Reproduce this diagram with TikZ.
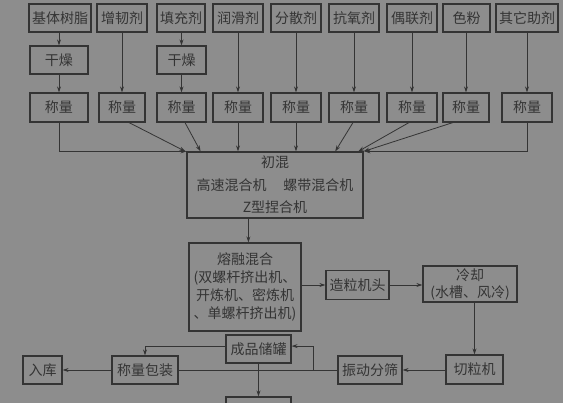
\documentclass[tikz,border=0pt]{standalone}
\usepackage{fontspec}
\setmainfont{Noto Sans CJK SC}
\usetikzlibrary{arrows.meta,calc}
\definecolor{bggray}{RGB}{141,141,141}
\definecolor{ink}{RGB}{52,52,52}
\begin{document}
\begin{tikzpicture}[x=1pt,y=-1pt,
  bx/.style={draw=ink,line width=1.2pt,inner sep=0pt,text=ink,align=center,
    font=\fontsize{14}{18}\selectfont},
  arr/.style={draw=ink,line width=0.8pt,-{Stealth[length=6pt,width=4pt]}},
  ln/.style={draw=ink,line width=0.8pt}]
\fill[bggray] (0,0) rectangle (563,403);
\useasboundingbox (0,0) rectangle (563,403);
% top row
\node[bx,minimum width=62pt,minimum height=28pt] (t1) at (60,18) {基体树脂};
\node[bx,minimum width=50pt,minimum height=28pt] (t2) at (122,18) {增韧剂};
\node[bx,minimum width=48pt,minimum height=28pt] (t3) at (181,18) {填充剂};
\node[bx,minimum width=50pt,minimum height=28pt] (t4) at (238,18) {润滑剂};
\node[bx,minimum width=50pt,minimum height=28pt] (t5) at (296,18) {分散剂};
\node[bx,minimum width=50pt,minimum height=28pt] (t6) at (354,18) {抗氧剂};
\node[bx,minimum width=50pt,minimum height=28pt] (t7) at (412,18) {偶联剂};
\node[bx,minimum width=47pt,minimum height=28pt] (t8) at (466.5,18) {色粉};
\node[bx,minimum width=62pt,minimum height=28pt] (t9) at (527,18) {其它助剂};
% drying
\node[bx,minimum width=58pt,minimum height=28pt] (d1) at (59,60) {干燥};
\node[bx,minimum width=49pt,minimum height=28pt] (d3) at (181.5,60) {干燥};
% weighing
\node[bx,minimum width=58pt,minimum height=29pt] (w1) at (59,107.5) {称量};
\node[bx,minimum width=46pt,minimum height=29pt] (w2) at (122,107.5) {称量};
\node[bx,minimum width=49pt,minimum height=29pt] (w3) at (181.5,107.5) {称量};
\node[bx,minimum width=50pt,minimum height=29pt] (w4) at (238,107.5) {称量};
\node[bx,minimum width=50pt,minimum height=29pt] (w5) at (296,107.5) {称量};
\node[bx,minimum width=50pt,minimum height=29pt] (w6) at (354,107.5) {称量};
\node[bx,minimum width=50pt,minimum height=29pt] (w7) at (412,107.5) {称量};
\node[bx,minimum width=46pt,minimum height=29pt] (w8) at (466,107.5) {称量};
\node[bx,minimum width=50pt,minimum height=29pt] (w9) at (527,107.5) {称量};
% pre-mix
\node[bx,minimum width=176pt,minimum height=66pt,font=\fontsize{14}{22.5}\selectfont] (mix) at (275,185) {初混\\高速混合机\hspace{1.2em}螺带混合机\\Z型捏合机};
% melt
\node[bx,minimum width=112pt,minimum height=88pt] (melt) at (245,287) {熔融混合\\(双螺杆挤出机、\\开炼机、密炼机\\、单螺杆挤出机)};
\node[bx,minimum width=63pt,minimum height=29pt] (gran) at (357.5,285) {造粒机头};
\node[bx,minimum width=94pt,minimum height=36pt,font=\fontsize{14}{17}\selectfont] (cool) at (470,284) {冷却\\(水槽、风冷)};
\node[bx,minimum width=57pt,minimum height=29pt] (cut) at (474.5,369.5) {切粒机};
\node[bx,minimum width=64pt,minimum height=28pt] (sieve) at (370,370) {振动分筛};
\node[bx,minimum width=65pt,minimum height=28pt] (store) at (258.5,349) {成品储罐};
\node[bx,minimum width=66pt,minimum height=28pt] (pack) at (145,370) {称量包装};
\node[bx,minimum width=39pt,minimum height=28pt] (stock) at (42.5,370) {入库};
\node[bx,minimum width=65pt,minimum height=28pt] (bot) at (258.5,411) {};
% arrows top
\draw[arr] (t1.south -| d1) -- (d1.north);
\draw[arr] (d1.south) -- (w1.north);
\draw[arr] (t3.south -| d3) -- (d3.north);
\draw[arr] (d3.south) -- (w3.north);
\draw[arr] (t2.south -| w2) -- (w2.north);
\draw[arr] (t4.south) -- (w4.north);
\draw[arr] (t5.south) -- (w5.north);
\draw[arr] (t6.south) -- (w6.north);
\draw[arr] (t7.south) -- (w7.north);
\draw[arr] (t8.south -| w8) -- (w8.north);
\draw[arr] (t9.south) -- (w9.north);
% to mix
\draw[arr] (w1.south) |- (mix.north west);
\draw[arr] ($(w2.south west)!0.65!(w2.south east)$) -- ([xshift=-1pt]mix.north west);
\draw[arr] ($(w3.south west)!0.57!(w3.south east)$) -- ($(mix.north west)!0.08!(mix.north east)$);
\draw[arr] (w4.south) -- (w4.south |- mix.north);
\draw[arr] (w5.south) -- (w5.south |- mix.north);
\draw[arr] ($(w6.south west)!0.48!(w6.south east)$) -- ($(mix.north west)!0.84!(mix.north east)$);
\draw[arr] ($(w7.south west)!0.44!(w7.south east)$) -- ($(mix.north west)!0.97!(mix.north east)$);
\draw[arr] ($(w8.south west)!0.22!(w8.south east)$) -- (mix.north east);
\draw[arr] (w9.south) |- ([xshift=1pt]mix.north east);
% middle
\draw[arr] ($(mix.south west)!0.35!(mix.south east)$) -- ($(melt.north west)!0.53!(melt.north east)$);
\draw[arr] (melt.east |- gran.west) -- (gran.west);
\draw[arr] (gran.east) -- (gran.east -| cool.west);
\draw[arr] (cool.south -| cut.north) -- (cut.north);
\draw[arr] (cut.west |- sieve.east) -- (sieve.east);
% bottom
\coordinate (j1) at (313,370);
\draw[ln] (sieve.west) -- (pack.east);
\draw[arr] (j1) |- ($(store.north east)!0.4!(store.south east)$);
\draw[arr] ($(store.north west)!0.4!(store.south west)$) -| (pack.north);
\draw[arr] (pack.west) -- (stock.east);
\draw[arr] (store.south) -- (bot.north);
\end{tikzpicture}
\end{document}
